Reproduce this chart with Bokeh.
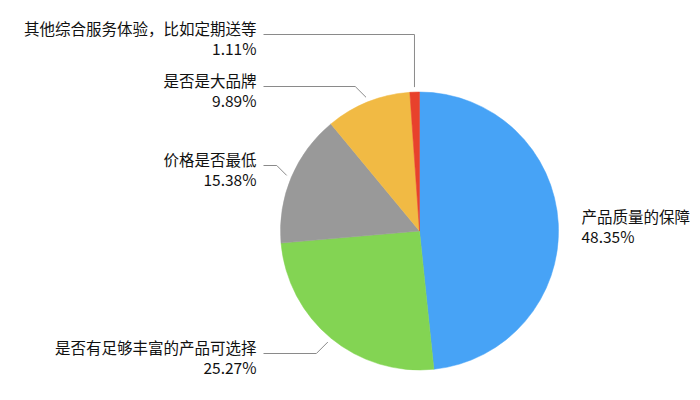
import math
from bokeh.plotting import figure
from bokeh.models import Range1d, ColumnDataSource
from bokeh.core.properties import value
from bokeh.embed import file_html
from bokeh.resources import INLINE

# ---- data (clockwise from 12 o'clock) ----
categories = ["产品质量的保障", "是否有足够丰富的产品可选择", "价格是否最低", "是否是大品牌", "其他综合服务体验，比如定期送等"]
values = [48.35, 25.27, 15.38, 9.89, 1.11]
colors = ["#47A3F6", "#83D453", "#999999", "#F1BA44", "#E8412C"]

# ---- layout (picture pixel coordinates) ----
W, H = 692, 392
cx_pg, cy_pg, R = 419, 230.5, 139
# label anchor: (x, name line y, align, leader kind)
label_layout = [
    (581, 215, "left", None),
    (256, 346, "right", "diag"),
    (256, 158, "right", "diag"),
    (256, 79, "right", "diag"),
    (256, 27, "right", "vert"),
]

def Y(py):
    return 400 - py

p = figure(width=W, height=H, output_backend="svg", toolbar_location=None,
           x_range=Range1d(0, W), y_range=Range1d(400 - H, 400),
           min_border=0)
p.axis.visible = False
p.grid.visible = False
p.outline_line_color = None
p.background_fill_color = "white"
p.border_fill_color = "white"

total = sum(values)
cum = 0.0
starts, ends, mids = [], [], []
for v in values:
    a0 = math.pi / 2 - 2 * math.pi * cum / total
    cum += v
    a1 = math.pi / 2 - 2 * math.pi * cum / total
    starts.append(a0)
    ends.append(a1)
    mids.append((a0 + a1) / 2)

src = ColumnDataSource(dict(start=starts, end=ends, color=colors))
p.wedge(x=cx_pg, y=Y(cy_pg), radius=R, start_angle="start", end_angle="end",
        direction="clock", fill_color="color", line_color="color", line_width=0.5, source=src)

xs, ys = [], []
for i, (cat, v) in enumerate(zip(categories, values)):
    lx, ly, align, kind = label_layout[i]
    p.text(x=[lx], y=[Y(ly)], text=[cat], text_align=align, text_baseline="middle",
           text_font=value("Noto Sans CJK SC"), text_font_size="15.5px", text_color="#111111")
    p.text(x=[lx], y=[Y(ly + 20)], text=[f"{v:.2f}%"], text_align=align, text_baseline="middle",
           text_font=value("Noto Sans CJK SC"), text_font_size="15.5px", text_color="#111111")
    if kind is None:
        continue
    m = mids[i]
    ex = cx_pg + (R + 5) * math.cos(m)
    ey = cy_pg - (R + 5) * math.sin(m)
    line_y = ly + 7
    if kind == "vert":
        elbow_x = ex
    else:
        elbow_x = ex - abs(ey - line_y)
    xs.append([lx + 7, elbow_x, ex])
    ys.append([Y(line_y), Y(line_y), Y(ey)])

p.multi_line(xs=xs, ys=ys, line_color="#8a8a8a", line_width=1)

open("out.html", "w").write(file_html(p, INLINE))
